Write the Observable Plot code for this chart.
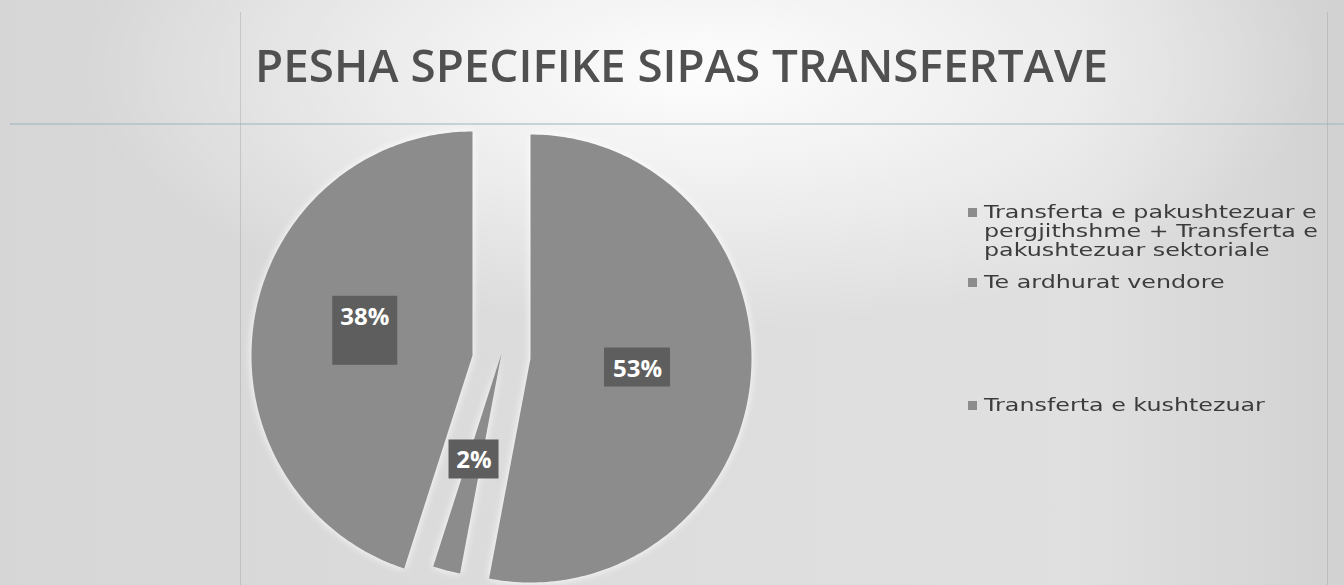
<!DOCTYPE html>
<html>
<head>
<meta charset="utf-8">
<script src="https://cdn.jsdelivr.net/npm/d3@7"></script>
<script src="https://cdn.jsdelivr.net/npm/@observablehq/plot@0.6"></script>
<style>
html, body { margin: 0; padding: 0; }
body {
  width: 1344px; height: 585px; overflow: hidden; position: relative;
  font-family: "Open Sans", "DejaVu Sans", sans-serif;
  background:
    radial-gradient(ellipse 620px 260px at 700px 70px, rgba(255,255,255,0.95) 0%, rgba(255,255,255,0.55) 45%, rgba(255,255,255,0) 100%),
    linear-gradient(90deg, #d6d6d6 0%, #dcdcdc 40%, #e0e0e0 80%, #d2d2d2 100%);
}
.hline { position: absolute; left: 10px; right: 0; top: 123px; height: 2px; background: rgba(160,185,195,0.55); }
.vline { position: absolute; top: 12px; bottom: 0; width: 1px; background: rgba(150,150,150,0.35); }
#title { position: absolute; left: 255px; top: 33px; font-size: 46px; font-weight: 600; color: #505050; white-space: nowrap; transform-origin: 0 0; }
#chart { position: absolute; left: 0; top: 100px; }
#chart svg g[aria-label="line"] { filter: drop-shadow(0 0 4px rgba(255,255,255,0.95)); }
#legend { position: absolute; left: 0; top: 0; }
.item { position: absolute; left: 968px; font-family: "DejaVu Sans", sans-serif; font-size: 17px; line-height: 19px; color: #3c3c3c; white-space: nowrap; }
.item .sw { position: absolute; left: 0; top: 5px; width: 9px; height: 9px; background: #8c8c8c; }
.item .tx { margin-left: 16px; display: block; transform-origin: 0 0; }
</style>
</head>
<body>
<div class="hline"></div>
<div class="vline" style="left:240px"></div>
<div class="vline" style="left:1327px"></div>
<div id="title"></div>
<div id="chart"></div>
<div id="legend"></div>
<script>
// ---- data ----
const title = "PESHA SPECIFIKE SIPAS TRANSFERTAVE";
const categories = [
  "Transferta e pakushtezuar e pergjithshme + Transferta e pakushtezuar sektoriale",
  "Te ardhurat vendore",
  "",
  "Transferta e kushtezuar"
];
const shares = [53, 2, 7, 38];
const labels = ["53%", "2%", "", "38%"];
const legendLines = [
  ["Transferta e pakushtezuar e", "pergjithshme + Transferta e", "pakushtezuar sektoriale"],
  ["Te ardhurat vendore"],
  [],
  ["Transferta e kushtezuar"]
];

// ---- layout / style ----
const W = 1344, H = 485;
const cx = 501, cy = 253;     // pie centre in svg px
const rx = 221, ry = 224;     // px per data unit
const xDomain = [-cx / rx, (W - cx) / rx];
const yDomain = [-(H - cy) / ry, cy / ry];
const sliceFill = "#8c8c8c";
const boxFill = "#5e5e5e";
const group = [0, 1, 2, 2];                       // slices 2 and 3 drawn as one block
const explodePx = [[29, 5], [0, 0], [-29, 2], [-29, 2]]; // px offset (right, down)
const labelR = 0.5;
const labelShiftPx = [[-3, 0], [0, -2], [0, 0], [-5, 3]];
const boxPx = [ // left, right, top, bottom relative to label centre (px)
  [-33, 33, -21, 18],
  [-25, 25, -20, 19],
  [0, 0, 0, 0],
  [-32, 33, -21, 48]
];

const total = d3.sum(shares);
let acc = 0;
const slices = shares.map((v, i) => {
  const a0 = acc / total * 2 * Math.PI; acc += v;
  const a1 = acc / total * 2 * Math.PI;
  return {i, v, a0, a1, mid: (a0 + a1) / 2,
          ox: explodePx[i][0] / rx, oy: -explodePx[i][1] / ry};
});

// polygons, one per group
const groups = d3.groups(slices, s => group[s.i]);
const pts = [];
groups.forEach(([g, ss]) => {
  const a0 = d3.min(ss, s => s.a0), a1 = d3.max(ss, s => s.a1);
  const ox = ss[0].ox, oy = ss[0].oy;
  pts.push({g, x: ox, y: oy});
  const n = Math.max(2, Math.ceil((a1 - a0) / (Math.PI / 180)));
  for (let k = 0; k <= n; k++) {
    const a = a0 + (a1 - a0) * k / n;
    pts.push({g, x: ox + Math.sin(a), y: oy + Math.cos(a)});
  }
});

const lab = slices.filter(s => labels[s.i]).map(s => ({
  i: s.i,
  text: labels[s.i],
  x: s.ox + labelR * Math.sin(s.mid) + labelShiftPx[s.i][0] / rx,
  y: s.oy + labelR * Math.cos(s.mid) - labelShiftPx[s.i][1] / ry
}));
const boxes = lab.map(d => ({
  x1: d.x + boxPx[d.i][0] / rx, x2: d.x + boxPx[d.i][1] / rx,
  y1: d.y - boxPx[d.i][2] / ry, y2: d.y - boxPx[d.i][3] / ry
}));

const chart = Plot.plot({
  width: W, height: H, margin: 0,
  x: {domain: xDomain, axis: null},
  y: {domain: yDomain, axis: null},
  style: {background: "transparent", overflow: "visible"},
  marks: [
    Plot.line(pts, {x: "x", y: "y", z: "g", fill: sliceFill, stroke: "none", curve: "linear-closed"}),
    Plot.rect(boxes, {x1: "x1", x2: "x2", y1: "y1", y2: "y2", fill: boxFill}),
    Plot.text(lab, {x: "x", y: "y", text: "text", fill: "white", fontSize: 24, fontWeight: "bold", fontFamily: "Open Sans"})
  ]
});
document.getElementById("chart").appendChild(chart);

// title
const t = document.getElementById("title");
t.textContent = title;
const tw = t.getBoundingClientRect().width;
t.style.transform = `scaleX(${853 / tw})`;

// legend
const legendTops = [203, 273, null, 396];
const lg = document.getElementById("legend");
categories.forEach((c, i) => {
  if (!c) return;
  const it = document.createElement("div");
  it.className = "item";
  it.style.top = legendTops[i] + "px";
  const sw = document.createElement("span"); sw.className = "sw";
  const tx = document.createElement("span"); tx.className = "tx";
  tx.innerHTML = legendLines[i].join("<br>");
  it.appendChild(sw); it.appendChild(tx);
  lg.appendChild(it);
});
// fit legend text to the reference width (first line ~ 334px)
const firstTx = lg.querySelector(".tx");
const lw = firstTx.getBoundingClientRect().width;
const sx = 334 / lw;
lg.querySelectorAll(".tx").forEach(e => e.style.transform = `scaleX(${sx})`);
</script>
</body>
</html>
